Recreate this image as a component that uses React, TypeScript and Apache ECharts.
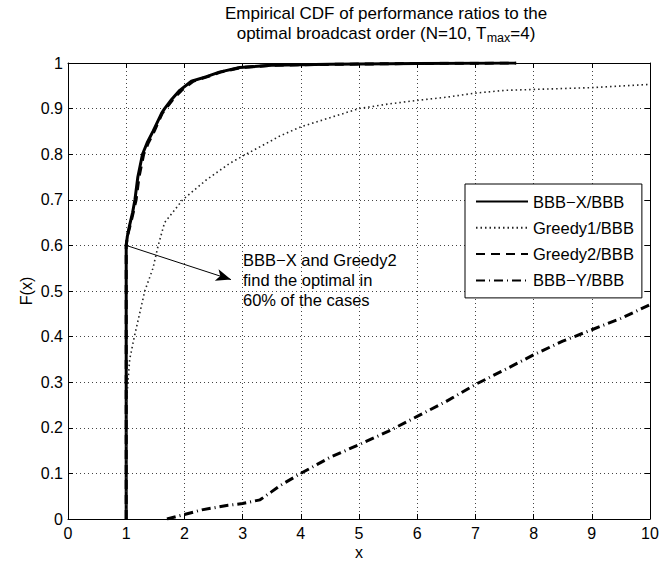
import React, { useEffect, useRef } from "react";
import * as echarts from "echarts";

const FONT = "Liberation Sans";

const titleLine1 = "Empirical CDF of performance ratios to the";
const titleLine2a = "optimal broadcast order (N=10, T";
const titleSub = "max";
const titleLine2b = "=4)";

const seriesNames = ["BBB−X/BBB", "Greedy1/BBB", "Greedy2/BBB", "BBB−Y/BBB"];

const bbbX_x = [1, 1, 1.02, 1.06, 1.11, 1.15, 1.2, 1.28, 1.36, 1.46, 1.61, 1.66, 1.78, 1.92, 2.12, 2.38, 2.6, 2.95, 3.5, 4.5, 6, 7.7];
const bbbX_y = [0, 0.6, 0.62, 0.645, 0.672, 0.7, 0.75, 0.8, 0.825, 0.85, 0.89, 0.9, 0.92, 0.94, 0.96, 0.97, 0.98, 0.99, 0.995, 0.997, 0.999, 1];

const greedy2_x = [1, 1, 1.02, 1.07, 1.12, 1.17, 1.22, 1.3, 1.38, 1.48, 1.62, 1.68, 1.8, 1.95, 2.15, 2.4, 2.62, 2.97, 3.5, 4.5, 6, 7.7];
const greedy2_y = [0, 0.6, 0.62, 0.645, 0.672, 0.7, 0.75, 0.8, 0.825, 0.85, 0.89, 0.9, 0.92, 0.94, 0.96, 0.97, 0.98, 0.99, 0.995, 0.997, 0.999, 1];

const greedy1_x = [1, 1, 1.03, 1.06, 1.14, 1.23, 1.32, 1.46, 1.55, 1.66, 1.97, 2.38, 2.78, 3.06, 3.5, 3.64, 4.0, 4.5, 5.0, 5.5, 6.0, 6.5, 7.0, 7.5, 8.0, 9.0, 10];
const greedy1_y = [0, 0.25, 0.3, 0.35, 0.4, 0.45, 0.5, 0.55, 0.6, 0.65, 0.7, 0.744, 0.78, 0.8, 0.83, 0.84, 0.86, 0.88, 0.9, 0.91, 0.918, 0.925, 0.934, 0.94, 0.942, 0.946, 0.953];

const bbbY_x = [1.7, 2.0, 2.3, 2.75, 3.0, 3.3, 3.5, 3.64, 4.0, 4.5, 5.0, 5.5, 6.0, 6.5, 7.0, 7.5, 8.0, 8.5, 9.0, 9.5, 10];
const bbbY_y = [0, 0.01, 0.02, 0.03, 0.034, 0.042, 0.06, 0.073, 0.1, 0.135, 0.163, 0.192, 0.225, 0.258, 0.295, 0.327, 0.36, 0.39, 0.415, 0.44, 0.47];

const arrowFrom = [1, 0.6];
const arrowTo = [2.8, 0.525];
const noteLines = ["BBB−X and Greedy2", "find the optimal in", "60% of the cases"];

const xTicks = { min: 0, max: 10, interval: 1 };
const yTicks = { min: 0, max: 1, interval: 0.1 };

function pairs(xs: number[], ys: number[]) {
  return xs.map((x, i) => [x, ys[i]]);
}

function measure(text: string, size: number) {
  const c = document.createElement("canvas").getContext("2d");
  if (!c) return text.length * size * 0.5;
  c.font = `${size}px "${FONT}"`;
  return c.measureText(text).width;
}

export default function App() {
  const ref = useRef<HTMLDivElement>(null);
  useEffect(() => {
    if (!ref.current) return;
    const chart = echarts.init(ref.current, null, { renderer: "svg" });
    const axisCommon = {
      type: "value" as const,
      axisLine: { show: true, onZero: false, lineStyle: { color: "#000", width: 1 } },
      axisTick: { show: true, inside: true, length: 5, lineStyle: { color: "#000" } },
    };
    const gridLine = { show: true, lineStyle: { color: "#444", type: [1, 3], width: 1 } };
    const labelStyle = { color: "#000", fontSize: 16, fontFamily: FONT };

    const titleSize = 17;
    const subSize = 12.5;
    const titleCx = 386;
    const wA = measure(titleLine2a, titleSize);
    const wS = measure(titleSub, subSize);
    const wB = measure(titleLine2b, titleSize);
    const x0 = titleCx - (wA + wS + wB) / 2;
    const tStyle = { fontSize: titleSize, fontFamily: FONT, fill: "#000", verticalAlign: "middle" };

    chart.setOption({
      animation: false,
      backgroundColor: "#fff",
      textStyle: { fontFamily: FONT },
      grid: { left: 68, right: 9, top: 63, bottom: 42, containLabel: false, outerBoundsMode: "none" },
      xAxis: [
        {
          ...axisCommon,
          ...xTicks,
          position: "bottom",
          splitLine: gridLine,
          axisLabel: { ...labelStyle, margin: 6 },
          name: "x",
          nameLocation: "middle",
          nameGap: 25,
          nameMoveOverlap: false,
          nameTextStyle: { ...labelStyle },
        },
        {
          ...axisCommon,
          ...xTicks,
          position: "top",
          splitLine: { show: false },
          axisLabel: { show: false },
        },
      ],
      yAxis: [
        {
          ...axisCommon,
          ...yTicks,
          position: "left",
          splitLine: gridLine,
          axisLabel: { ...labelStyle, margin: 5 },
          name: "F(x)",
          nameLocation: "middle",
          nameGap: 34,
          nameMoveOverlap: false,
          nameTextStyle: { ...labelStyle },
        },
        {
          ...axisCommon,
          ...yTicks,
          position: "right",
          splitLine: { show: false },
          axisLabel: { show: false },
        },
      ],
      legend: {
        orient: "vertical",
        left: 465,
        top: 184,
        itemWidth: 52,
        itemHeight: 14,
        itemGap: 9.3,
        padding: [9, 8, 9, 10],
        borderColor: "#000",
        borderWidth: 1,
        backgroundColor: "#fff",
        itemStyle: { opacity: 0 },
        textStyle: { color: "#000", fontSize: 16.5, fontFamily: FONT },
        data: seriesNames,
      },
      series: [
        {
          name: seriesNames[0],
          type: "line",
          data: pairs(bbbX_x, bbbX_y),
          showSymbol: false,
          symbol: "none",
          lineStyle: { color: "#000", width: 3, type: "solid" },
          itemStyle: { color: "#000" },
          z: 3,
          markLine: {
            silent: true,
            symbol: ["none", "arrow"],
            symbolSize: [9, 15],
            label: { show: false },
            lineStyle: { color: "#000", width: 1, type: "solid" },
            data: [[{ coord: arrowFrom }, { coord: arrowTo }]],
          },
        },
        {
          name: seriesNames[1],
          type: "line",
          data: pairs(greedy1_x, greedy1_y),
          showSymbol: false,
          symbol: "none",
          lineStyle: { color: "#222", width: 1.6, type: [1.5, 3] },
          itemStyle: { color: "#222" },
          z: 4,
        },
        {
          name: seriesNames[2],
          type: "line",
          data: pairs(greedy2_x, greedy2_y),
          showSymbol: false,
          symbol: "none",
          lineStyle: { color: "#000", width: 3, type: [9, 6] },
          itemStyle: { color: "#000" },
          z: 5,
        },
        {
          name: seriesNames[3],
          type: "line",
          data: pairs(bbbY_x, bbbY_y),
          showSymbol: false,
          symbol: "none",
          lineStyle: { color: "#000", width: 3, type: [9, 4, 1, 4] },
          itemStyle: { color: "#000" },
          z: 6,
        },
      ],
      graphic: [
        {
          type: "text",
          x: titleCx,
          y: 13,
          style: { ...tStyle, text: titleLine1, align: "center" },
        },
        {
          type: "text",
          x: x0,
          y: 33,
          style: { ...tStyle, text: titleLine2a, align: "left" },
        },
        {
          type: "text",
          x: x0 + wA,
          y: 38,
          style: { ...tStyle, fontSize: subSize, text: titleSub, align: "left" },
        },
        {
          type: "text",
          x: x0 + wA + wS,
          y: 33,
          style: { ...tStyle, text: titleLine2b, align: "left" },
        },
        {
          type: "text",
          x: 243,
          y: 250,
          style: {
            text: noteLines.join("\n"),
            fontSize: 16.5,
            fontFamily: FONT,
            lineHeight: 20,
            fill: "#000",
          },
        },
      ],
    });
    return () => chart.dispose();
  }, []);
  return (
    <div
      ref={ref}
      style={{ position: "absolute", left: 0, top: 0, width: 659, height: 561 }}
    />
  );
}
